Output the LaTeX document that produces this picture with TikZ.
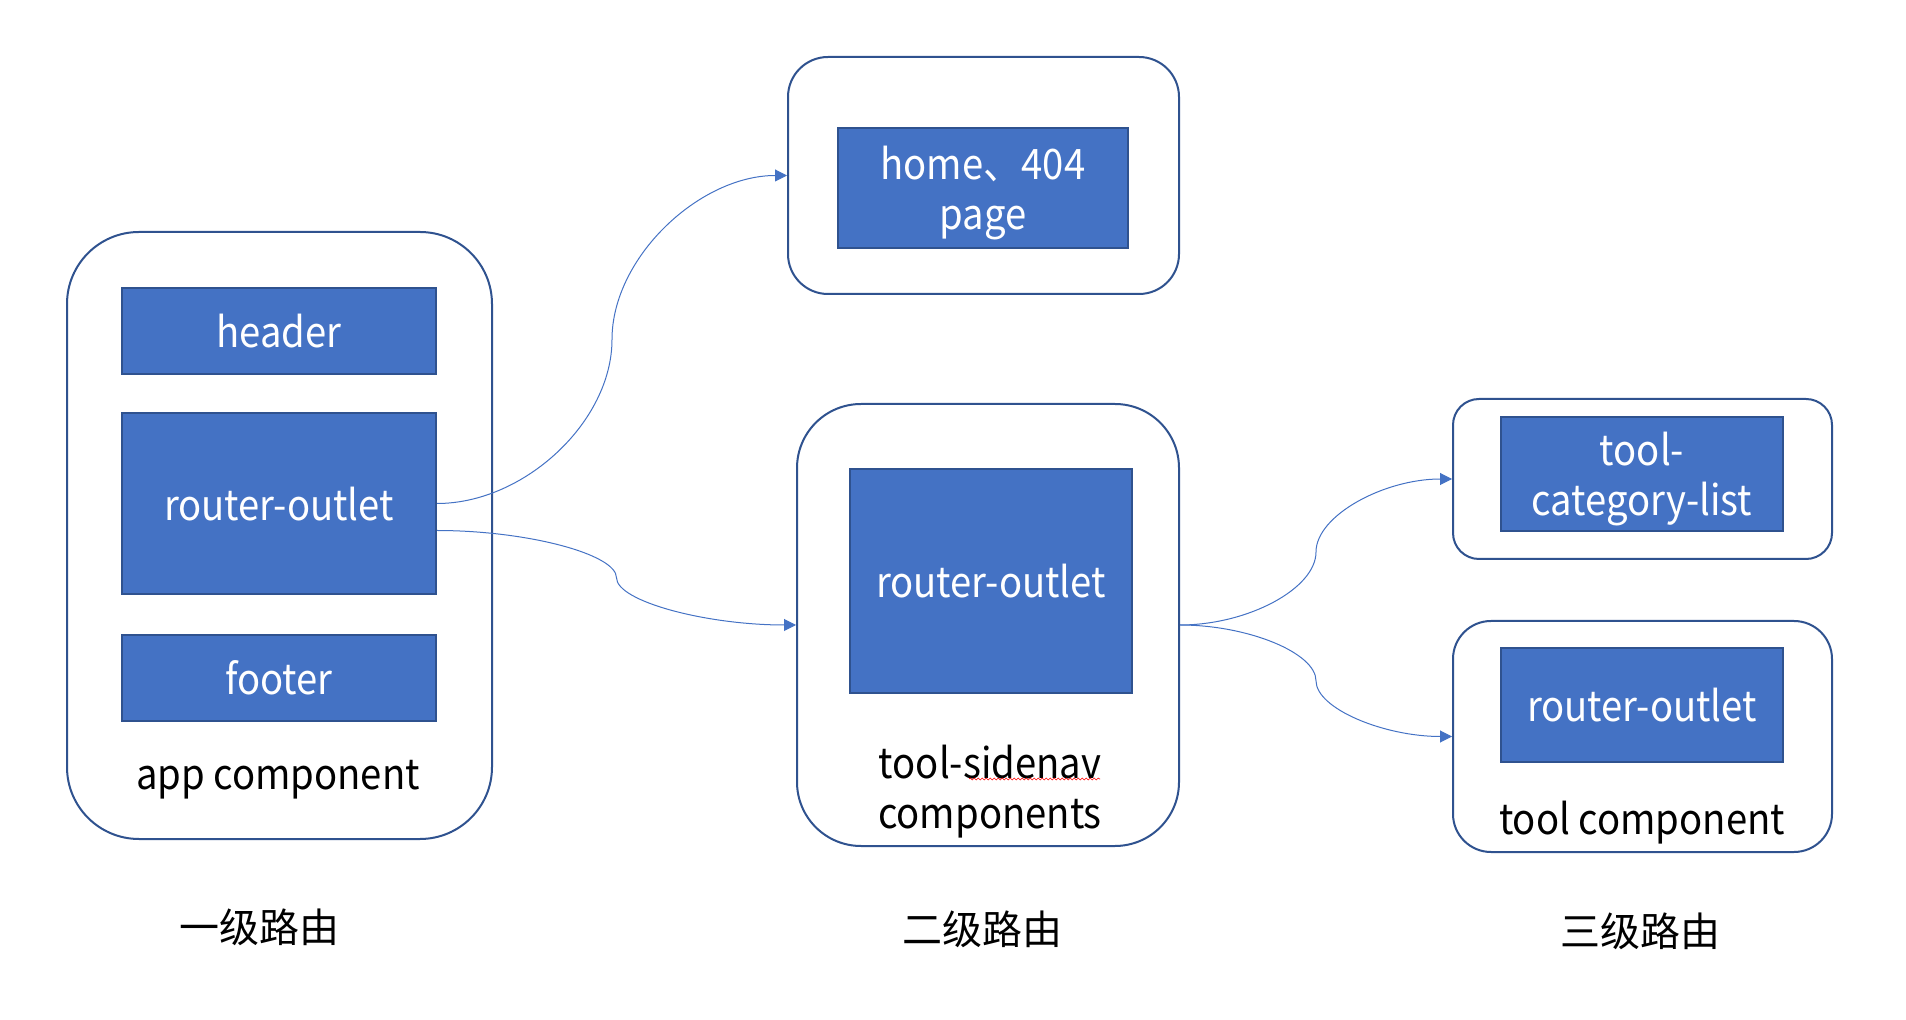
\documentclass[tikz,border=0pt]{standalone}
\usepackage{fontspec}
\setmainfont{Noto Sans CJK SC}
\newfontfamily\narrowfont{Noto Sans CJK SC}[FakeStretch=0.91]
\usetikzlibrary{arrows.meta,calc,decorations.pathmorphing}
\definecolor{boxblue}{HTML}{4472C4}
\definecolor{edgeblue}{HTML}{2F528F}
\tikzset{comp/.style = {draw=edgeblue, line width=1pt, fill=white, inner sep=0pt},
         blk/.style  = {draw=edgeblue, line width=1pt, fill=boxblue, text=white, inner sep=0pt, align=center, text depth=-1pt, font=\narrowfont\fontsize{21}{25}\selectfont},
         lbl/.style  = {align=center, inner sep=0pt, font=\narrowfont\fontsize{21}{25}\selectfont},
         lvl/.style  = {inner sep=0pt, font=\fontsize{20}{24}\selectfont},
         lnk/.style  = {draw=boxblue, line width=0.5pt, -{Triangle[length=6pt,width=6pt]}},
         spell/.style = {draw=red, line width=0.3pt, decorate, decoration={snake, amplitude=0.5pt, segment length=2pt}}}

\begin{document}
\begin{tikzpicture}[x=0.5pt, y=-0.5pt]
    \useasboundingbox (0,0) rectangle (1906,1020);
    % first level
    \node[comp, rounded corners=36pt, minimum width=212.5pt, minimum height=303.5pt] (app) at (279.5,535.5) {};
    \node[blk, minimum width=157pt, minimum height=43pt] (header) at (279,331) {header};
    \node[blk, minimum width=157pt, minimum height=90.5pt] (ro1) at (279,503.5) {router-outlet};
    \node[blk, minimum width=157pt, minimum height=43pt] (footer) at (279,678) {footer};
    \node[lbl] (appl) at (278,780) {app component};
    % second level
    \node[comp, rounded corners=20pt, minimum width=195.5pt, minimum height=118.5pt] (homec) at (983.5,175.5) {};
    \node[blk, minimum width=145pt, minimum height=60pt] (home) at (983,188) {home、404\\page};
    \node[comp, rounded corners=32pt, minimum width=191pt, minimum height=221pt] (side) at (988,625) {};
    \node[blk, minimum width=141pt, minimum height=112pt] (ro2) at (991,581) {router-outlet};
    \node[lbl] (sidel) at (990,792) {tool-sidenav\\components};
    \draw[spell] (969,779) -- (1100,779);
    % third level
    \node[comp, rounded corners=13pt, minimum width=189.5pt, minimum height=80pt] (catc) at (1642.5,479) {};
    \node[blk, minimum width=141pt, minimum height=57pt] (cat) at (1642,474) {tool-\\category-list};
    \node[comp, rounded corners=19pt, minimum width=189.5pt, minimum height=115.5pt] (tool) at (1642.5,736.5) {};
    \node[blk, minimum width=141pt, minimum height=57pt] (ro3) at (1642,705) {router-outlet};
    \node[lbl] (tooll) at (1642,823) {tool component};
    % level captions
    \node[lvl] (lv1) at (259,927) {一级路由};
    \node[lvl] (lv2) at (982,929) {二级路由};
    \node[lvl] (lv3) at (1640,931) {三级路由};
    % links
    \coordinate (s1) at ($(ro1.east)+(0,27)$);
    \foreach \a/\b/\n in {ro1.east/homec.west/1, s1/side.west/2, side.east/catc.west/3, side.east/tool.west/4} {
        \coordinate (q\n) at ($(\a)!.25!(\b)$);
        \coordinate (m\n) at ($(\a)!.5!(\b)$);
        \coordinate (r\n) at ($(\a)!.75!(\b)$);
        \draw[lnk] (\a) .. controls (\a -| q\n) and (q\n -| m\n) .. (m\n)
                        .. controls (r\n -| m\n) and (\b -| r\n) .. (\b);
    }
\end{tikzpicture}
\end{document}
